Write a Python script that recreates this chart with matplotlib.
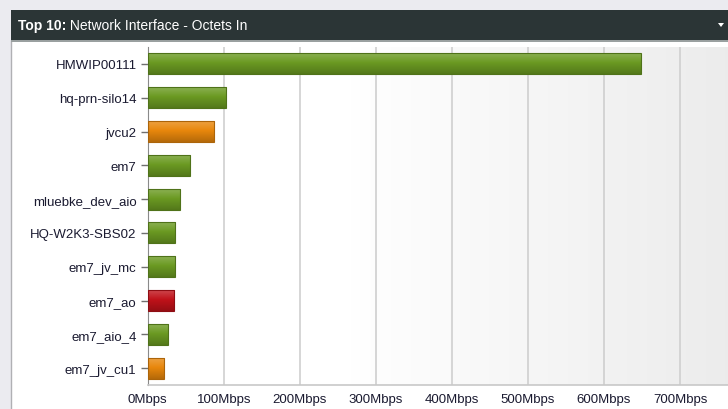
import matplotlib.pyplot as plt
import numpy as np
from matplotlib.patches import Rectangle, Polygon
from matplotlib.colors import to_rgb

# chart data
names = ['HMWIP00111', 'hq-prn-silo14', 'jvcu2', 'em7', 'mluebke_dev_aio',
         'HQ-W2K3-SBS02', 'em7_jv_mc', 'em7_ao', 'em7_aio_4', 'em7_jv_cu1']
values = [648, 103.4, 87.6, 55.6, 42.9, 35.9, 35.9, 34.6, 27.1, 21.8]
colors = ['#6b9a22', '#6b9a22', '#e8870c', '#6b9a22', '#6b9a22',
          '#6b9a22', '#6b9a22', '#c0121a', '#6b9a22', '#e8870c']
xticks = [0, 100, 200, 300, 400, 500, 600, 700]
xtick_labels = ['%dMbps' % t for t in xticks]
title_a = 'Top 10:'
title_b = ' Network Interface - Octets In'

plt.rcParams['font.family'] = ['Liberation Sans', 'DejaVu Sans']

fig = plt.figure(figsize=(7.28, 4.10), dpi=100)
fig.patch.set_facecolor('#ebebf0')

W, H = 728.0, 410.0
# white panel and dark title bar
fig.patches.append(Rectangle((11 / W, -0.01), 1, 1.01 - 41 / H, transform=fig.transFigure,
                             facecolor='white', edgecolor='#b0b0b4', lw=1, zorder=-3))
fig.patches.append(Rectangle((11 / W, 1 - 41 / H), 1, 30 / H, transform=fig.transFigure,
                             facecolor='#2b3536', edgecolor='none', zorder=-2))
fig.patches.append(Rectangle((11 / W, 1 - 43 / H), 1, 2 / H, transform=fig.transFigure,
                             facecolor='#9aa0a0', edgecolor='none', zorder=-2))
ta = fig.text(18 / W, 1 - 26 / H, title_a, color='white', fontsize=10, fontweight='bold',
              va='center', ha='left')
fig.canvas.draw()
bb = ta.get_window_extent()
fig.text(bb.x1 / W, 1 - 26 / H, title_b, color='white', fontsize=10,
         va='center', ha='left')
fig.patches.append(Polygon([(718 / W, 1 - 24 / H), (724 / W, 1 - 24 / H), (721 / W, 1 - 28 / H)],
                           closed=True, transform=fig.transFigure, facecolor='white',
                           edgecolor='none', zorder=-1))

ax = fig.add_axes([147.7 / W, 1 - 386 / H, 1 - 147.7 / W, (386 - 48) / H])
xmax = 763

# background gradient, white to light grey on the right
grad = np.linspace(0, 1, 256)
grad = np.clip((grad - 0.35) / 0.65, 0, 1)
bg = np.ones((1, 256, 3))
for i in range(3):
    bg[0, :, i] = 1.0 - grad * 0.075
ax.imshow(bg, extent=(0, xmax, len(names) - 0.5, -0.5), aspect='auto', zorder=0)

for t in xticks[1:]:
    ax.axvline(t, color='#cfcfcf', lw=1.2, zorder=1)

y = np.arange(len(names))
h = 0.62
tv = np.linspace(0, 1, 64)
for yi, v, c in zip(y, values, colors):
    base = np.array(to_rgb(c))
    light = np.clip(base + (1 - base) * 0.22, 0, 1)
    dark = base * 0.78
    img = np.zeros((64, 1, 3))
    for k in range(3):
        img[:, 0, k] = np.interp(tv, [0, 0.45, 1], [light[k], base[k], dark[k]])
    ax.imshow(img, extent=(0, v, yi + h / 2, yi - h / 2), aspect='auto', zorder=2,
              interpolation='bilinear')
    ax.barh(yi, v, height=h, color='none', edgecolor=dark * 0.95, lw=0.8, zorder=3)

ax.set_xlim(0, xmax)
ax.set_ylim(len(names) - 0.5, -0.5)
ax.set_yticks(y)
ax.set_yticklabels(names)
ax.set_xticks(xticks)
ax.set_xticklabels(xtick_labels)
ax.tick_params(axis='y', length=5, width=1, color='#707070', labelsize=9.5,
               labelcolor='#1a1a30', pad=3)
ax.tick_params(axis='x', length=0, labelsize=9.5, labelcolor='#1a1a30', pad=6)
for s in ['top', 'right']:
    ax.spines[s].set_visible(False)
ax.spines['left'].set_color('#8a8a8a')
ax.spines['bottom'].set_color('#c8c8c8')
ax.spines['bottom'].set_linewidth(1.2)

fig.savefig('out.png', dpi=100, facecolor=fig.get_facecolor())
